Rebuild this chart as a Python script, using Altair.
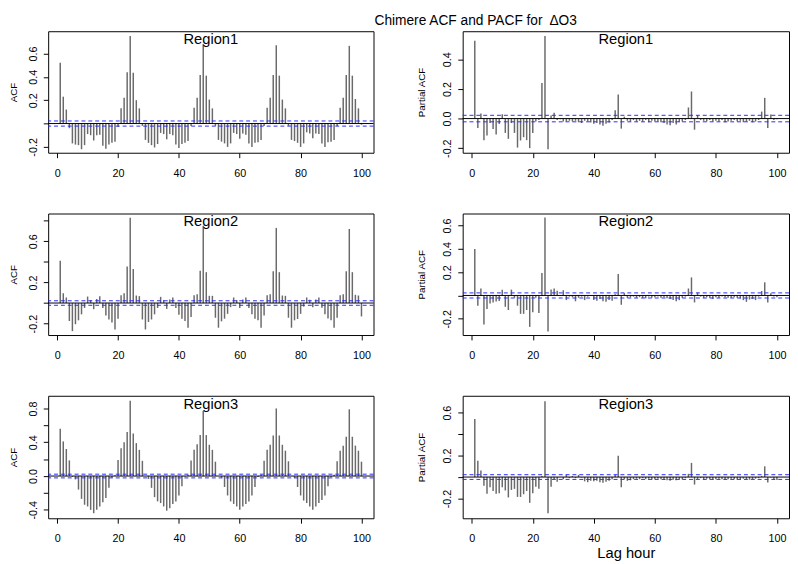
import altair as alt
import pandas as pd

# ---------------- data ----------------
lags = list(range(1, 101))

r1_acf = [0.52, 0.23, 0.12, -0.04, -0.17, -0.18, -0.185, -0.22, -0.185, -0.09,
          -0.10, -0.145, -0.10, -0.095, -0.19, -0.215, -0.18, -0.165, -0.155, -0.03,
          0.13, 0.22, 0.44, 0.75, 0.435, 0.20, 0.13, -0.02, -0.14, -0.165,
          -0.185, -0.205, -0.175, -0.08, -0.09, -0.135, -0.09, -0.10, -0.18, -0.21,
          -0.175, -0.165, -0.15, -0.02, 0.135, 0.22, 0.415, 0.68, 0.41, 0.205,
          0.13, -0.02, -0.14, -0.155, -0.17, -0.20, -0.17, -0.08, -0.09, -0.13,
          -0.085, -0.095, -0.17, -0.20, -0.165, -0.16, -0.14, -0.02, 0.135, 0.22,
          0.415, 0.67, 0.41, 0.205, 0.13, -0.02, -0.14, -0.15, -0.165, -0.20,
          -0.17, -0.075, -0.085, -0.125, -0.085, -0.09, -0.17, -0.20, -0.16, -0.155,
          -0.14, -0.02, 0.135, 0.22, 0.415, 0.665, 0.41, 0.21, 0.13, -0.01]

r1_pacf = [0.525, -0.064, 0.035, -0.146, -0.115, -0.03, -0.07, -0.108, -0.037, 0.03,
           -0.097, -0.137, -0.03, -0.097, -0.196, -0.148, -0.126, -0.146, -0.20, -0.097,
           -0.02, -0.01, 0.24, 0.558, -0.207, 0.02, 0.04, -0.01, -0.005, -0.02,
           -0.02, -0.015, -0.02, -0.015, -0.025, -0.03, -0.015, -0.02, -0.027, -0.035,
           -0.03, -0.04, -0.048, -0.035, -0.027, -0.01, 0.057, 0.163, -0.068, 0.013,
           -0.015, -0.02, -0.01, -0.02, -0.015, -0.02, -0.01, -0.025, -0.015, -0.02,
           -0.02, -0.025, -0.03, -0.04, -0.045, -0.03, -0.04, -0.025, -0.02, -0.01,
           0.075, 0.183, -0.075, 0.024, -0.01, -0.015, -0.02, -0.01, -0.02, -0.015,
           -0.02, -0.01, -0.025, -0.02, -0.015, -0.01, -0.02, -0.015, -0.025, -0.02,
           -0.015, -0.025, -0.02, -0.01, 0.047, 0.14, -0.064, 0.028, -0.01, -0.004]

r2_acf = [0.41, 0.095, 0.054, -0.175, -0.273, -0.206, -0.168, -0.11, -0.048, 0.063,
          0.03, -0.06, 0.04, 0.067, -0.048, -0.12, -0.16, -0.19, -0.257, -0.152,
          0.076, 0.095, 0.355, 0.83, 0.33, 0.073, 0.067, -0.16, -0.257, -0.184,
          -0.16, -0.11, -0.048, 0.06, 0.03, -0.057, 0.035, 0.054, -0.048, -0.114,
          -0.152, -0.175, -0.24, -0.137, 0.076, 0.086, 0.314, 0.752, 0.30, 0.07,
          0.07, -0.143, -0.24, -0.178, -0.152, -0.105, -0.04, 0.054, 0.03, -0.048,
          0.035, 0.054, -0.048, -0.11, -0.152, -0.168, -0.24, -0.12, 0.076, 0.086,
          0.308, 0.73, 0.30, 0.073, 0.07, -0.143, -0.24, -0.168, -0.155, -0.105,
          -0.035, 0.054, 0.032, -0.04, 0.035, 0.054, -0.045, -0.11, -0.15, -0.168,
          -0.24, -0.143, 0.076, 0.086, 0.308, 0.72, 0.30, 0.08, 0.073, -0.13]

r2_pacf = [0.40, -0.088, 0.06, -0.25, -0.117, -0.07, -0.06, -0.052, -0.047, 0.05,
           -0.097, -0.125, 0.05, -0.02, -0.088, -0.158, -0.158, -0.125, -0.27, -0.145,
           -0.02, -0.15, 0.193, 0.67, -0.31, 0.052, 0.06, 0.04, -0.005, 0.045,
           -0.04, -0.01, -0.015, -0.05, -0.02, -0.01, -0.04, -0.01, -0.005, -0.04,
           -0.045, -0.03, -0.05, -0.055, -0.04, -0.045, 0.01, 0.185, -0.08, 0.02,
           -0.02, -0.015, -0.01, -0.02, -0.015, -0.02, -0.025, -0.01, -0.02, -0.015,
           -0.01, -0.02, -0.015, -0.025, -0.03, -0.04, -0.05, -0.04, -0.02, -0.01,
           0.06, 0.155, -0.06, 0.024, -0.01, -0.02, -0.015, -0.02, -0.03, -0.015,
           -0.02, -0.01, -0.015, -0.02, -0.02, -0.015, -0.02, -0.025, -0.04, -0.055,
           -0.035, -0.03, -0.04, -0.01, 0.038, 0.113, -0.06, 0.02, -0.01, -0.015]

r3_acf = [0.56, 0.41, 0.32, 0.185, -0.01, -0.04, -0.16, -0.27, -0.34, -0.36,
          -0.40, -0.44, -0.40, -0.36, -0.31, -0.26, -0.14, -0.02, 0.01, 0.19,
          0.33, 0.40, 0.52, 0.89, 0.505, 0.39, 0.31, 0.18, 0.0, -0.035,
          -0.14, -0.25, -0.30, -0.32, -0.36, -0.41, -0.38, -0.33, -0.30, -0.23,
          -0.12, -0.005, 0.015, 0.185, 0.31, 0.375, 0.485, 0.77, 0.485, 0.37,
          0.31, 0.17, 0.0, -0.02, -0.13, -0.23, -0.30, -0.33, -0.36, -0.40,
          -0.36, -0.33, -0.30, -0.23, -0.13, -0.01, 0.015, 0.18, 0.31, 0.37,
          0.48, 0.80, 0.48, 0.37, 0.30, 0.175, 0.0, -0.025, -0.13, -0.23,
          -0.29, -0.32, -0.36, -0.40, -0.36, -0.32, -0.285, -0.23, -0.12, -0.01,
          0.015, 0.175, 0.30, 0.36, 0.465, 0.79, 0.465, 0.36, 0.30, 0.17]

r3_pacf = [0.54, 0.153, 0.062, -0.08, -0.155, -0.095, -0.13, -0.155, -0.15, -0.095,
           -0.125, -0.19, -0.12, -0.11, -0.185, -0.185, -0.16, -0.13, -0.24, -0.15,
           -0.09, -0.11, 0.01, 0.705, -0.336, -0.09, -0.02, -0.043, 0.0, -0.02,
           0.02, -0.01, 0.01, -0.01, 0.02, -0.005, -0.04, -0.048, -0.035, -0.04,
           -0.035, -0.048, -0.052, -0.043, -0.035, -0.02, 0.02, 0.198, -0.095, -0.02,
           -0.035, -0.03, -0.02, -0.015, -0.02, -0.01, -0.02, -0.015, -0.025, -0.02,
           -0.015, -0.02, -0.025, -0.03, -0.035, -0.025, -0.03, -0.025, -0.02, -0.01,
           0.03, 0.132, -0.07, -0.02, -0.01, -0.02, -0.015, -0.02, -0.025, -0.02,
           -0.015, -0.02, -0.025, -0.02, -0.015, -0.02, -0.025, -0.02, -0.015, -0.02,
           -0.025, -0.02, -0.015, -0.01, 0.01, 0.10, -0.05, -0.005, -0.025, -0.028]

ci_bounds = [0.022, -0.022]

x_ticks = [0, 20, 40, 60, 80, 100]

r1_acf_ticks = [-0.2, 0.0, 0.2, 0.4, 0.6]
r1_acf_labels = ["-0.2", "", "0.2", "0.4", "0.6"]
r1_pacf_ticks = [-0.2, 0.0, 0.2, 0.4]
r1_pacf_labels = ["-0.2", "0.0", "0.2", "0.4"]
r2_acf_ticks = [-0.2, 0.0, 0.2, 0.4, 0.6, 0.8]
r2_acf_labels = ["-0.2", "", "0.2", "", "0.6", ""]
r2_pacf_ticks = [-0.2, 0.0, 0.2, 0.4, 0.6]
r2_pacf_labels = ["-0.2", "", "0.2", "0.4", "0.6"]
r3_acf_ticks = [-0.4, -0.2, 0.0, 0.2, 0.4, 0.6, 0.8]
r3_acf_labels = ["-0.4", "", "0.0", "", "0.4", "", "0.8"]
r3_pacf_ticks = [-0.2, 0.0, 0.2, 0.4, 0.6]
r3_pacf_labels = ["-0.2", "", "0.2", "", "0.6"]

main_title = "Chimere ACF and PACF for\u2002\u0394O3"
x_title = "Lag hour"

FONT = "Liberation Sans"
BAR = "#6a6a6a"
CI = "#2a2aff"
XDOM = [-2.96, 103.96]


def label_expr(ticks, labels):
    parts = [f"abs(datum.value - ({t})) < 1e-6 ? '{l}' : " for t, l in zip(ticks, labels)]
    return "".join(parts) + "''"


def panel(vals, region, ytitle, ydom, ticks, labels, w, h, title_pad, xtitle=None):
    df = pd.DataFrame({"lag": lags, "v": vals, "z": [0.0] * len(lags)})
    yscale = alt.Scale(domain=ydom, nice=False, zero=False)
    xscale = alt.Scale(domain=XDOM, nice=False, zero=False)

    xaxis_kw = dict(values=x_ticks, labelFlush=False, labelPadding=10, tickSize=5,
                    labelFontSize=11, format="d", title=None)
    if xtitle:
        xaxis_kw.update(title=xtitle, titleFontSize=15, titleFontWeight="normal",
                        titlePadding=2, titleFont=FONT)
    yaxis = alt.Axis(values=ticks, labelExpr=label_expr(ticks, labels),
                     labelAngle=270, labelAlign="center", labelBaseline="bottom",
                     labelPadding=5, tickSize=5, labelFontSize=11,
                     labelOverlap=False, title=ytitle, titleFontSize=10,
                     titleFontWeight="normal", titlePadding=title_pad)

    bars = alt.Chart(df).mark_rule(color=BAR, strokeWidth=1.5).encode(
        x=alt.X("lag:Q", scale=xscale, axis=alt.Axis(**xaxis_kw)),
        y=alt.Y("v:Q", scale=yscale, axis=yaxis),
        y2="z:Q",
    )
    zero = alt.Chart(pd.DataFrame({"v": [0.0]})).mark_rule(color="black", strokeWidth=1).encode(
        y=alt.Y("v:Q", scale=yscale, axis=yaxis)
    )
    ci = alt.Chart(pd.DataFrame({"v": ci_bounds})).mark_rule(
        color=CI, strokeWidth=1, strokeDash=[4, 3]).encode(
        y=alt.Y("v:Q", scale=yscale, axis=yaxis)
    )
    txt = alt.Chart(pd.DataFrame({"t": [region]})).mark_text(
        fontSize=15, baseline="top", align="center", font=FONT, color="black", dy=1).encode(
        x=alt.value(w / 2), y=alt.value(0), text="t:N"
    )
    return alt.layer(bars, zero, ci, txt).properties(width=w, height=h)


WL, WR = 332, 333
LP, RP = 9.5, 16
panels = [
    panel(r1_acf, "Region1", "ACF", [-0.25, 0.79], r1_acf_ticks, r1_acf_labels, WL, 124, LP),
    panel(r1_pacf, "Region1", "Partial ACF", [-0.231, 0.59], r1_pacf_ticks, r1_pacf_labels, WR, 124, RP),
    panel(r2_acf, "Region2", "ACF", [-0.311, 0.87], r2_acf_ticks, r2_acf_labels, WL, 124, LP),
    panel(r2_pacf, "Region2", "Partial ACF", [-0.34, 0.704], r2_pacf_ticks, r2_pacf_labels, WR, 124, RP),
    panel(r3_acf, "Region3", "ACF", [-0.50, 0.95], r3_acf_ticks, r3_acf_labels, WL, 125, LP),
    panel(r3_pacf, "Region3", "Partial ACF", [-0.384, 0.757], r3_pacf_ticks, r3_pacf_labels, WR, 125, RP,
          xtitle=x_title),
]

chart = alt.concat(*panels, columns=2, bounds="flush",
                   spacing={"row": 62, "column": 91}).properties(
    padding=0,
    title=alt.TitleParams(main_title, anchor="start", dx=374, fontSize=14, font=FONT,
                          fontWeight="normal", color="black", offset=3),
).configure(font=FONT).configure_view(
    stroke="black", strokeWidth=1
).configure_axis(
    grid=False, domain=False, tickColor="black", labelColor="black", titleColor="black",
    labelFont=FONT, titleFont=FONT
)

chart.save("out.html", embed_options={"renderer": "svg", "actions": False})
